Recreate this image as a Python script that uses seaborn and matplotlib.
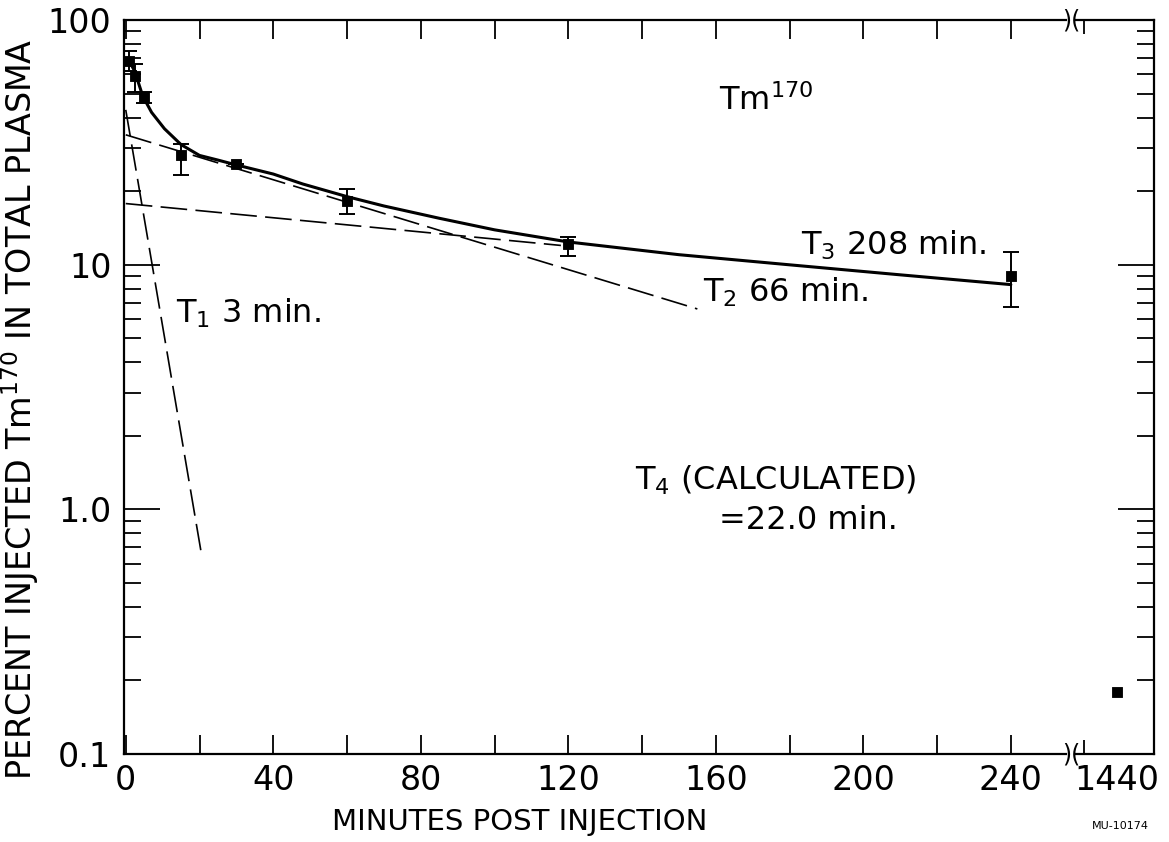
import matplotlib
matplotlib.use('Agg')
import matplotlib.pyplot as plt
import seaborn as sns
import pandas as pd

# measured plasma levels (minutes after injection, % of injected dose)
sample_minutes = [1, 2.5, 5, 15, 30, 60, 120, 240]
sample_percent = [68, 59, 48.5, 28, 25.8, 18.3, 12.2, 9.0]
err_low = [62, 51, 46, 23.3, 25.8, 16.1, 10.9, 6.7]
err_high = [75, 66, 51, 31.3, 25.8, 20.4, 13.0, 11.3]

# the 24 hour point sits past the axis break
late_minutes = [1440]
late_percent = [0.18]

# fitted curve
curve_minutes = [0.5, 2.4, 4.6, 7, 10.5, 15, 20, 25, 30, 40, 48, 60, 70,
                 85, 100, 120, 150, 180, 210, 240]
curve_percent = [70, 62, 49, 42, 36, 31, 28, 26.8, 25.6, 23.5, 21.4, 19.0,
                 17.4, 15.5, 13.9, 12.4, 11.0, 10.0, 9.1, 8.3]

# exponential components (straight lines on the log scale)
t1_minutes = [0, 20.5]
t1_percent = [43, 0.66]
t2_minutes = [0, 155]
t2_percent = [34, 6.6]
t3_minutes = [0, 118]
t3_percent = [17.8, 12.0]

x_major = [0, 40, 80, 120, 160, 200, 240]
x_minor = [20, 60, 100, 140, 180, 220]
y_ticks = [0.1, 1, 10, 100]
y_tick_labels = ['0.1', '1.0', '10', '100']

sns.set_theme(style='ticks')
plt.rcParams['font.family'] = ['DejaVu Sans']
plt.rcParams['mathtext.default'] = 'regular'
plt.rcParams['axes.labelcolor'] = 'black'

fig = plt.figure(figsize=(11.69, 8.42), dpi=100)
ax = fig.add_axes([0.106, 0.1045, 0.806, 0.8715])
ax2 = fig.add_axes([0.9205, 0.1045, 0.0665, 0.8715], sharey=ax)

curve_df = pd.DataFrame({'minutes': curve_minutes, 'percent': curve_percent})
sns.lineplot(data=curve_df, x='minutes', y='percent', ax=ax, color='black',
             linewidth=2.2, estimator=None)

for xs, ys in [(t1_minutes, t1_percent), (t2_minutes, t2_percent), (t3_minutes, t3_percent)]:
    comp = pd.DataFrame({'minutes': xs, 'percent': ys})
    sns.lineplot(data=comp, x='minutes', y='percent', ax=ax, color='black',
                 linewidth=1.2, estimator=None)
    ax.lines[-1].set_dashes([16, 5])

# error bars, then the squares
yerr = [[p - lo for p, lo in zip(sample_percent, err_low)],
        [hi - p for p, hi in zip(sample_percent, err_high)]]
ax.errorbar(sample_minutes, sample_percent, yerr=yerr, fmt='none',
            ecolor='black', elinewidth=1.4, capsize=6, capthick=1.4)
sns.scatterplot(x=sample_minutes, y=sample_percent, ax=ax, marker='s',
                color='black', s=60, edgecolor='black', zorder=5)
sns.scatterplot(x=late_minutes, y=late_percent, ax=ax2, marker='s',
                color='black', s=60, edgecolor='black', zorder=5)

ax.set_yscale('log')
ax.set_ylim(0.1, 100)
ax.set_xlim(-0.5, 255)
ax2.set_xlim(1430, 1449)

ax.set_xticks(x_major)
ax.set_xticklabels([str(v) for v in x_major])
ax.set_xticks(x_minor, minor=True)
ax.set_yticks(y_ticks)
ax.set_yticklabels(y_tick_labels)
ax2.set_xticks(late_minutes)
ax2.set_xticklabels(['1440'])
ax2.set_xticks([1432], minor=True)

for a in (ax, ax2):
    for s in a.spines.values():
        s.set_color('black')
        s.set_linewidth(1.6)
    a.tick_params(which='both', direction='in', colors='black', labelsize=24,
                  width=1.3, pad=7)
    a.set_xlabel('')
    a.set_ylabel('')

ax.spines['right'].set_visible(False)
ax2.spines['left'].set_visible(False)
ax.tick_params(axis='x', which='both', top=True, length=14)
ax.tick_params(axis='y', which='major', length=26, pad=9)
ax.tick_params(axis='y', which='minor', length=12)
ax.tick_params(axis='y', which='both', right=False)
ax2.tick_params(axis='y', which='both', left=False, right=True, labelleft=False)
ax2.tick_params(axis='y', which='major', length=26)
ax2.tick_params(axis='y', which='minor', length=12)
ax2.tick_params(axis='x', which='major', length=0)
ax2.tick_params(axis='x', which='minor', length=10, top=True)

# axis break marks between the two panels
for yy in (0.0, 1.0):
    fig.text(0.9163, 0.1045 + 0.8715 * yy, ')(', ha='center', va='center',
             fontsize=17, color='black')

ax.set_xlabel('MINUTES POST INJECTION', fontsize=21, color='black')
ax.set_ylabel('PERCENT INJECTED Tm$^{170}$ IN TOTAL PLASMA', fontsize=24, color='black')
ax.xaxis.set_label_coords(0.42, -0.073)
ax.yaxis.set_label_coords(-0.088, 0.47)

txt = dict(color='black', fontsize=23)
ax.text(161, 43, 'Tm$^{170}$', **txt)
ax.text(183, 11.0, 'T$_3$ 208 min.', **txt)
ax.text(156.5, 7.1, 'T$_2$ 66 min.', **txt)
ax.text(13.5, 5.8, 'T$_1$ 3 min.', **txt)
ax.text(138, 1.2, 'T$_4$ (CALCULATED)', **txt)
ax.text(161, 0.83, '=22.0 min.', **txt)
fig.text(0.958, 0.016, 'MU-10174', fontsize=8, ha='center', color='black')

fig.savefig('out.png', dpi=100, facecolor='white')
